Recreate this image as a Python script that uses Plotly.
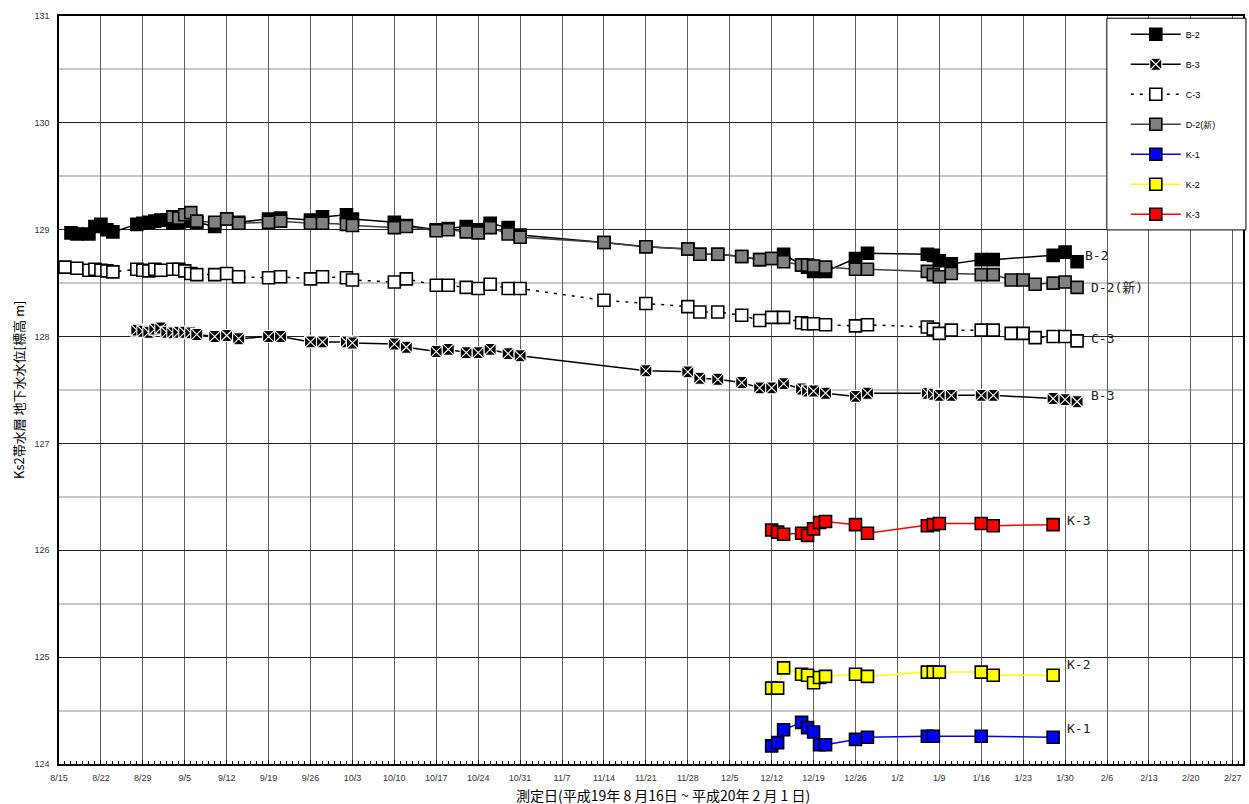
import plotly.graph_objects as go


def to_date(md):
    m, d = map(int, md.split("/"))
    y = 2007 if m >= 8 else 2008
    return f"{y}-{m:02d}-{d:02d}"


# ---------------- data ----------------
tick_labels = ["8/15", "8/22", "8/29", "9/5", "9/12", "9/19", "9/26", "10/3", "10/10",
               "10/17", "10/24", "10/31", "11/7", "11/14", "11/21", "11/28", "12/5",
               "12/12", "12/19", "12/26", "1/2", "1/9", "1/16", "1/23", "1/30", "2/6",
               "2/13", "2/20", "2/27"]

b2_dates = ["8/17", "8/18", "8/20", "8/21", "8/22", "8/23", "8/24", "8/28", "8/29", "8/30",
            "8/31", "9/1", "9/2", "9/3", "9/4", "9/5", "9/6", "9/7", "9/10", "9/12", "9/14",
            "9/19", "9/21", "9/26", "9/28", "10/2", "10/3", "10/10", "10/12", "10/17",
            "10/19", "10/22", "10/24", "10/26", "10/29", "10/31", "11/14", "11/21", "11/28",
            "11/30", "12/3", "12/7", "12/10", "12/12", "12/14", "12/17", "12/18", "12/19",
            "12/21", "12/26", "12/28", "1/7", "1/8", "1/9", "1/11", "1/16", "1/18", "1/28",
            "1/30", "2/1"]
b2_vals = [128.97, 128.96, 128.96, 129.03, 129.05, 129.00, 128.98, 129.05, 129.06, 129.07,
           129.08, 129.09, 129.09, 129.06, 129.07, 129.08, 129.09, 129.07, 129.03, 129.10,
           129.07, 129.10, 129.11, 129.09, 129.12, 129.14, 129.10, 129.07, 129.04, 129.00,
           129.01, 129.03, 129.00, 129.06, 129.02, 128.95, 128.88, 128.84, 128.82, 128.77,
           128.77, 128.75, 128.72, 128.73, 128.77, 128.67, 128.65, 128.61, 128.61, 128.73,
           128.78, 128.77, 128.76, 128.71, 128.68, 128.72, 128.72, 128.76, 128.79, 128.70]

b3_dates = ["8/28", "8/29", "8/30", "8/31", "9/1", "9/2", "9/3", "9/4", "9/5", "9/6", "9/7",
            "9/10", "9/12", "9/14", "9/19", "9/21", "9/26", "9/28", "10/2", "10/3", "10/10",
            "10/12", "10/17", "10/19", "10/22", "10/24", "10/26", "10/29", "10/31", "11/21",
            "11/28", "11/30", "12/3", "12/7", "12/10", "12/12", "12/14", "12/17", "12/18",
            "12/19", "12/21", "12/26", "12/28", "1/7", "1/8", "1/9", "1/11", "1/16", "1/18",
            "1/28", "1/30", "2/1"]
b3_vals = [128.06, 128.05, 128.04, 128.07, 128.08, 128.04, 128.035, 128.04, 128.04, 128.035,
           128.02, 128.00, 128.01, 127.98, 128.00, 128.00, 127.95, 127.95, 127.95, 127.94,
           127.93, 127.90, 127.86, 127.88, 127.85, 127.85, 127.88, 127.84, 127.82, 127.68,
           127.67, 127.61, 127.60, 127.57, 127.52, 127.52, 127.56, 127.51, 127.49, 127.49,
           127.47, 127.44, 127.47, 127.47, 127.46, 127.45, 127.45, 127.45, 127.45, 127.42,
           127.41, 127.39]

c3_dates = ["8/16", "8/18", "8/20", "8/21", "8/22", "8/23", "8/24", "8/28", "8/29", "8/30",
            "8/31", "9/1", "9/3", "9/4", "9/5", "9/6", "9/7", "9/10", "9/12", "9/14", "9/19",
            "9/21", "9/26", "9/28", "10/2", "10/3", "10/10", "10/12", "10/17", "10/19",
            "10/22", "10/24", "10/26", "10/29", "10/31", "11/14", "11/21", "11/28", "11/30",
            "12/3", "12/7", "12/10", "12/12", "12/14", "12/17", "12/18", "12/19", "12/21",
            "12/26", "12/28", "1/7", "1/8", "1/9", "1/11", "1/16", "1/18", "1/21", "1/23",
            "1/25", "1/28", "1/30", "2/1"]
c3_vals = [128.65, 128.64, 128.62, 128.63, 128.62, 128.615, 128.605, 128.63, 128.62, 128.615,
           128.63, 128.62, 128.63, 128.63, 128.615, 128.59, 128.58, 128.58, 128.59, 128.56,
           128.55, 128.56, 128.54, 128.56, 128.55, 128.53, 128.51, 128.54, 128.48, 128.48,
           128.46, 128.45, 128.49, 128.45, 128.45, 128.34, 128.31, 128.28, 128.23, 128.23,
           128.20, 128.15, 128.18, 128.18, 128.13, 128.12, 128.12, 128.11, 128.10, 128.11,
           128.09, 128.07, 128.03, 128.06, 128.06, 128.06, 128.03, 128.03, 127.99, 128.00,
           128.00, 127.96]

d2_dates = ["9/3", "9/4", "9/5", "9/6", "9/7", "9/10", "9/12", "9/14", "9/19", "9/21", "9/26",
            "9/28", "10/2", "10/3", "10/10", "10/12", "10/17", "10/19", "10/22", "10/24",
            "10/26", "10/29", "10/31", "11/14", "11/21", "11/28", "11/30", "12/3", "12/7",
            "12/10", "12/12", "12/14", "12/17", "12/18", "12/19", "12/21", "12/26", "12/28",
            "1/7", "1/8", "1/9", "1/11", "1/16", "1/18", "1/21", "1/23", "1/25", "1/28",
            "1/30", "2/1"]
d2_vals = [129.12, 129.11, 129.14, 129.16, 129.08, 129.07, 129.10, 129.06, 129.07, 129.08,
           129.06, 129.06, 129.05, 129.04, 129.02, 129.03, 128.99, 129.00, 128.98, 128.97,
           129.02, 128.96, 128.93, 128.88, 128.84, 128.82, 128.77, 128.77, 128.75, 128.72,
           128.73, 128.70, 128.67, 128.67, 128.66, 128.65, 128.63, 128.63, 128.61, 128.58,
           128.56, 128.59, 128.58, 128.58, 128.53, 128.53, 128.49, 128.50, 128.51, 128.46]

k1_dates = ["12/12", "12/13", "12/14", "12/17", "12/18", "12/19", "12/20", "12/21", "12/26",
            "12/28", "1/7", "1/8", "1/16", "1/28"]
k1_vals = [124.17, 124.20, 124.32, 124.39, 124.34, 124.30, 124.18, 124.18, 124.23, 124.25,
           124.26, 124.26, 124.26, 124.25]

k_dates = ["12/12", "12/13", "12/14", "12/17", "12/18", "12/19", "12/20", "12/21", "12/26",
           "12/28", "1/7", "1/8", "1/9", "1/16", "1/18", "1/28"]
k2_vals = [124.71, 124.71, 124.90, 124.84, 124.83, 124.76, 124.81, 124.82, 124.84, 124.82,
           124.86, 124.86, 124.86, 124.86, 124.83, 124.83]
k3_vals = [126.19, 126.17, 126.15, 126.16, 126.14, 126.20, 126.26, 126.27, 126.24, 126.16,
           126.23, 126.24, 126.25, 126.25, 126.23, 126.24]

# end-of-series labels: (text, date, value)
end_labels = [("B-2", "2/2", 128.76), ("D-2(新)", "2/3", 128.46), ("C-3", "2/3", 127.98),
              ("B-3", "2/3", 127.45), ("K-3", "1/30", 126.28), ("K-2", "1/30", 124.93),
              ("K-1", "1/30", 124.33)]

# ---------------- figure ----------------
MS = 12
series = [
    ("B-2", b2_dates, b2_vals, "black", "solid", "square", "black", "black", 1.6),
    ("B-3", b3_dates, b3_vals, "black", "solid", "square-x", "black", "white", 1.1),
    ("C-3", c3_dates, c3_vals, "black", "3px,6px", "square", "white", "black", 1.6),
    ("D-2(新)", d2_dates, d2_vals, "#404040", "solid", "square", "#808080", "black", 1.6),
    ("K-1", k1_dates, k1_vals, "#0000ff", "solid", "square", "#0000ff", "black", 1.6),
    ("K-2", k_dates, k2_vals, "#ffff00", "solid", "square", "#ffff00", "black", 1.6),
    ("K-3", k_dates, k3_vals, "#ff0000", "solid", "square", "#ff0000", "black", 1.6),
]

fig = go.Figure()
for name, dts, vals, lc, dash, sym, fc, mlc, mlw in series:
    fig.add_trace(go.Scatter(
        x=[to_date(d) for d in dts], y=vals, name=name, mode="lines+markers",
        legendgroup=name,
        line=dict(color=lc, width=1.5, dash=dash),
        marker=dict(symbol=sym, size=MS, color=fc,
                    line=dict(color=mlc, width=mlw)),
    ))

for txt, d, v in end_labels:
    fig.add_annotation(x=to_date(d), y=v, text=txt, showarrow=False, xanchor="left",
                       yanchor="middle",
                       font=dict(family="DejaVu Sans Mono, Noto Sans CJK JP", size=13,
                                 color="#222"))

# axis titles
fig.add_annotation(xref="paper", yref="paper", x=0.5, y=0, yanchor="top", yshift=-19,
                   xshift=12, showarrow=False,
                   text="測定日(平成19年 8 月16日 ~ 平成20年 2 月 1 日)",
                   font=dict(family="Noto Sans CJK JP", size=14, color="black"))
fig.add_annotation(xref="paper", yref="paper", x=0, y=0.5, xshift=-41, textangle=-90,
                   xanchor="center", yanchor="middle",
                   showarrow=False, text="Ks2帯水層 地下水水位[標高 m]",
                   font=dict(family="Noto Sans CJK JP", size=13, color="black"))

# legend box
fig.add_shape(type="rect", xref="paper", yref="paper", x0=0.885, x1=1.0025, y0=0.714,
              y1=0.997, fillcolor="white", line=dict(color="black", width=1), layer="above")

fig.update_layout(
    width=1249, height=804,
    margin=dict(l=59, r=6, t=16, b=40),
    paper_bgcolor="white", plot_bgcolor="white",
    showlegend=True,
    legend=dict(x=0.901, y=0.995, xanchor="left", yanchor="top",
                bgcolor="rgba(0,0,0,0)", borderwidth=0, itemwidth=50,
                tracegroupgap=11,
                font=dict(family="Liberation Sans, Arial", size=9, color="black")),
    font=dict(family="Liberation Sans, Arial", size=9, color="#333"),
)

fig.update_xaxes(
    type="date",
    range=["2007-08-15", "2008-02-28 17:00"],
    tickmode="array",
    tickvals=[to_date(t) for t in tick_labels],
    ticktext=tick_labels,
    showgrid=True, gridcolor="#606060", gridwidth=1,
    ticks="inside", ticklen=4, tickcolor="black",
    minor=dict(ticks="inside", ticklen=3, tickcolor="black", dtick=86400000,
               tick0="2007-08-15", showgrid=False),
    showline=True, linecolor="black", linewidth=1.5, mirror=True,
    zeroline=False, ticklabelstandoff=4,
    tickfont=dict(size=9, color="#333"),
    automargin=False,
)
fig.update_yaxes(
    range=[124, 131], dtick=1, tick0=124,
    showgrid=True, gridcolor="#222", gridwidth=1,
    minor=dict(dtick=0.5, showgrid=True, gridcolor="#c8c8c8", gridwidth=1.5),
    showline=True, linecolor="black", linewidth=1.5, mirror=True,
    zeroline=False, ticks="", ticklabelstandoff=6,
    tickfont=dict(size=9, color="#333"),
    automargin=False,
)

fig.write_html("out.html", config={"displayModeBar": False},
               post_script="document.body.style.margin='0';document.body.style.padding='0';")
